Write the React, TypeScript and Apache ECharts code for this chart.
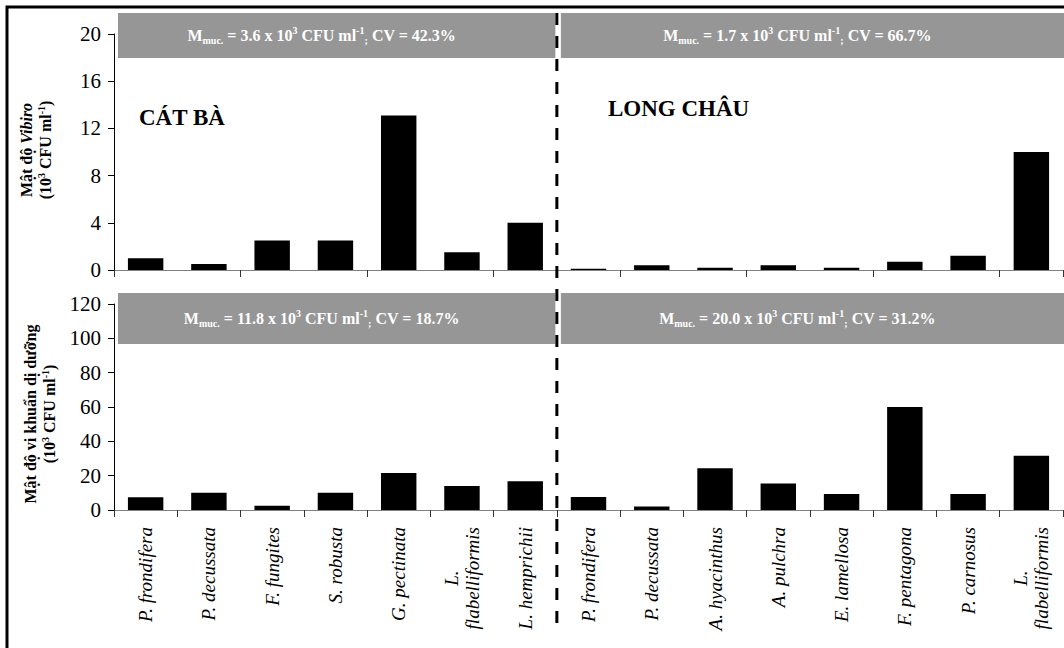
import React, { useEffect, useRef } from "react";
import * as echarts from "echarts";

// ---- data ----
const cbSpecies = ["P. frondifera", "P. decussata", "F. fungites", "S. robusta", "G. pectinata", "L.\nflabelliformis", "L. hemprichii"];
const lcSpecies = ["P. frondifera", "P. decussata", "A. hyacinthus", "A. pulchra", "E. lamellosa", "F. pentagona", "P. carnosus", "L.\nflabelliformis"];
const vibrioCB = [1.0, 0.5, 2.5, 2.5, 13.1, 1.5, 4.0];
const vibrioLC = [0.1, 0.4, 0.2, 0.4, 0.2, 0.7, 1.2, 10.0];
const heteroCB = [7.5, 10, 2.5, 10, 21.5, 14, 16.7];
const heteroLC = [7.6, 2, 24.3, 15.5, 9.3, 60, 9.3, 31.6];
const vibrioAxis = [0, 20, 4]; // min, max, interval
const heteroAxis = [0, 120, 20];
const headerMeans = ["3.6", "1.7", "11.8", "20.0"];
const headerCVs = ["42.3", "66.7", "18.7", "31.2"];
const siteNames = ["CÁT BÀ", "LONG CHÂU"];

const FONT = "Liberation Serif, Times New Roman, serif";

export default function App() {
  const ref = useRef<HTMLDivElement>(null);
  useEffect(() => {
    if (!ref.current) return;
    const chart = echarts.init(ref.current, undefined, { renderer: "svg" });
    const categories = [...cbSpecies, ...lcSpecies];
    const L = 114, R = 1063;
    const T1 = 34, H1 = 236, T2 = 304, H2 = 206;
    const nCB = cbSpecies.length, nAll = categories.length;
    const splitX = L + ((R - L) * nCB) / nAll;

    const headerText = (m: string, cv: string) =>
      `{b|M}{sub|muc.}{b| = ${m} x 10}{sup|3}{b| CFU ml}{sup|-1}{sub|;}{b| CV = ${cv}%}`;
    const headerRich = {
      b: { fontSize: 16, fontWeight: "bold", fontFamily: FONT, fill: "#fff", lineHeight: 20 },
      sub: { fontSize: 10, fontWeight: "bold", fontFamily: FONT, fill: "#fff", lineHeight: 11, verticalAlign: "bottom" },
      sup: { fontSize: 10, fontWeight: "bold", fontFamily: FONT, fill: "#fff", lineHeight: 11, verticalAlign: "top" },
    };
    const titleRich = {
      b: { fontSize: 16, fontWeight: "bold", fontFamily: FONT, fill: "#000", lineHeight: 19 },
      bi: { fontSize: 16, fontWeight: "bold", fontStyle: "italic", fontFamily: FONT, fill: "#000", lineHeight: 19 },
      sup: { fontSize: 10, fontWeight: "bold", fontFamily: FONT, fill: "#000", lineHeight: 11, verticalAlign: "top" },
    };
    const unitLine = "{b|(10}{sup|3}{b| CFU ml}{sup|-1}{b|)}";

    const boxes: any[] = [];
    const boxRows = [
      { y: 13, h: 45 },
      { y: 293, h: 51 },
    ];
    boxRows.forEach((row, ri) => {
      const lx = L + 4, lw = splitX - 1.5 - lx;
      const rx = splitX + 4, rw = 1064 - rx;
      [[lx, lw], [rx, rw]].forEach(([x, w], ci) => {
        const idx = ri * 2 + ci;
        boxes.push({
          type: "rect",
          shape: { x, y: row.y, width: w, height: row.h },
          style: { fill: "#969696" },
          z: 1,
        });
        boxes.push({
          type: "text",
          x: x + w / 2 - 15,
          y: row.y + row.h / 2,
          style: {
            text: headerText(headerMeans[idx], headerCVs[idx]),
            rich: headerRich,
            align: "center",
            verticalAlign: "middle",
            fontFamily: FONT,
          },
          z: 2,
        });
      });
    });

    const xAxisBase = {
      type: "category",
      data: categories,
      boundaryGap: true,
      axisLine: { lineStyle: { color: "#808080", width: 1 } },
      axisTick: { show: true, length: 7, lineStyle: { color: "#333" } },
    };
    const yAxisBase = {
      type: "value",
      splitLine: { show: false },
      axisLine: { show: true, lineStyle: { color: "#000", width: 1 } },
      axisTick: { show: true, length: 6, lineStyle: { color: "#000" } },
      axisLabel: { fontFamily: FONT, fontSize: 21, color: "#000", margin: 13 },
    };

    chart.setOption({
      animation: false,
      backgroundColor: "#fff",
      grid: [
        { left: L, top: T1, width: R - L, height: H1 },
        { left: L, top: T2, width: R - L, height: H2 },
      ],
      xAxis: [
        { ...xAxisBase, gridIndex: 0, axisLabel: { show: false } },
        {
          ...xAxisBase,
          gridIndex: 1,
          axisLabel: {
            show: true,
            interval: 0,
            rotate: 90,
            margin: 17,
            fontFamily: FONT,
            fontStyle: "italic",
            fontSize: 19,
            lineHeight: 21,
            color: "#000",
            formatter: (v: string) =>
              v.includes("\n")
                ? v
                    .split("\n")
                    .map((s, i) => (i === 0 ? `{c|${s}}` : `{n|${s}}`))
                    .join("\n")
                : v,
            rich: {
              c: { align: "center", fontFamily: FONT, fontStyle: "italic", fontSize: 19, lineHeight: 21, color: "#000" },
              n: { fontFamily: FONT, fontStyle: "italic", fontSize: 19, lineHeight: 21, color: "#000" },
            },
          },
        },
      ],
      yAxis: [
        { ...yAxisBase, gridIndex: 0, min: vibrioAxis[0], max: vibrioAxis[1], interval: vibrioAxis[2] },
        { ...yAxisBase, gridIndex: 1, min: heteroAxis[0], max: heteroAxis[1], interval: heteroAxis[2] },
      ],
      series: [
        {
          type: "bar",
          xAxisIndex: 0,
          yAxisIndex: 0,
          data: [...vibrioCB, ...vibrioLC],
          barWidth: "56%",
          itemStyle: { color: "#000" },
        },
        {
          type: "bar",
          xAxisIndex: 1,
          yAxisIndex: 1,
          data: [...heteroCB, ...heteroLC],
          barWidth: "56%",
          itemStyle: { color: "#000" },
        },
      ],
      graphic: [
        {
          type: "rect",
          shape: { x: 7, y: 7, width: 1200, height: 800 },
          style: { fill: "none", stroke: "#000", lineWidth: 3 },
          z: 0,
        },
        ...boxes,
        {
          type: "line",
          shape: { x1: splitX, y1: 13, x2: splitX, y2: 630 },
          style: { stroke: "#000", lineWidth: 3, lineDash: [12, 11] },
          z: 5,
        },
        {
          type: "text",
          x: 139,
          y: 117,
          style: { text: siteNames[0], fontFamily: FONT, fontWeight: "bold", fontSize: 23, fill: "#000", align: "left", verticalAlign: "middle" },
          z: 3,
        },
        {
          type: "text",
          x: 608,
          y: 108,
          style: { text: siteNames[1], fontFamily: FONT, fontWeight: "bold", fontSize: 23, fill: "#000", align: "left", verticalAlign: "middle" },
          z: 3,
        },
        {
          type: "text",
          x: 36,
          y: 150,
          rotation: Math.PI / 2,
          style: {
            text: "{b|Mật độ }{bi|Vibiro}\n" + unitLine,
            rich: titleRich,
            align: "center",
            verticalAlign: "middle",
            fontFamily: FONT,
          },
          z: 3,
        },
        {
          type: "text",
          x: 40,
          y: 414,
          rotation: Math.PI / 2,
          style: {
            text: "{b|Mật độ vi khuẩn dị dưỡng}\n" + unitLine,
            rich: titleRich,
            align: "center",
            verticalAlign: "middle",
            fontFamily: FONT,
          },
          z: 3,
        },
      ],
    });
    return () => chart.dispose();
  }, []);
  return (
    <div
      ref={ref}
      style={{ position: "fixed", left: 0, top: 0, width: 1064, height: 648, background: "#fff" }}
    />
  );
}
